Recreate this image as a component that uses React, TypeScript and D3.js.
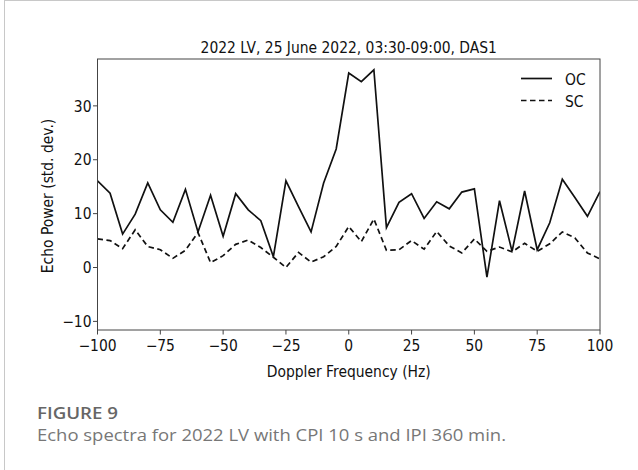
import React from "react";
import * as d3 from "d3";

const freqs: number[] = [
  -100, -95, -90, -85, -80, -75, -70, -65, -60, -55, -50, -45, -40, -35, -30, -25, -20, -15, -10, -5,
  0, 5, 10, 15, 20, 25, 30, 35, 40, 45, 50, 55, 60, 65, 70, 75, 80, 85, 90, 95, 100,
];
const ocValues: number[] = [
  16.1, 13.8, 6.2, 9.9, 15.7, 10.7, 8.4, 14.5, 6.6, 13.4, 5.8, 13.7, 10.7, 8.7, 2.0, 16.1, 11.3, 6.6, 15.7, 22.0,
  36.1, 34.5, 36.7, 7.4, 12.1, 13.7, 9.1, 12.2, 10.9, 14.0, 14.6, -1.8, 12.4, 3.0, 14.2, 3.3, 8.3, 16.4, 13.0, 9.5, 14.1,
];
const scValues: number[] = [
  5.3, 5.0, 3.5, 7.0, 3.9, 3.3, 1.7, 3.2, 6.5, 0.9, 2.2, 4.3, 5.1, 3.7, 1.9, 0.0, 2.8, 1.0, 2.0, 3.9,
  7.6, 4.8, 9.0, 3.2, 3.3, 5.0, 3.4, 6.7, 4.0, 2.7, 5.3, 3.0, 3.8, 2.9, 4.5, 3.0, 4.4, 6.6, 5.5, 2.7, 1.6,
];
const xTicks: number[] = [-100, -75, -50, -25, 0, 25, 50, 75, 100];
const yTicks: number[] = [-10, 0, 10, 20, 30];
const seriesNames: string[] = ["OC", "SC"];

const W = 638;
const H = 470;
const plot = { left: 97.5, right: 600, top: 59, bottom: 330 };
const FONT = "'DejaVu Sans', sans-serif";
const FS = 15.6;
const SX = 0.89;

function Txt(props: {
  x: number;
  y: number;
  anchor?: "start" | "middle" | "end";
  rotate?: number;
  children: React.ReactNode;
}) {
  const { x, y, anchor = "start", rotate = 0, children } = props;
  return (
    <g transform={`translate(${x},${y}) rotate(${rotate}) scale(${SX},1)`}>
      <text x={0} y={0} textAnchor={anchor} fontFamily={FONT} fontSize={FS} fill="#111">
        {children}
      </text>
    </g>
  );
}

export default function App() {
  const x = d3.scaleLinear().domain([-100, 100]).range([plot.left, plot.right]);
  const y = d3.scaleLinear().domain([-11.6, 38.7]).range([plot.bottom, plot.top]);
  const line = d3
    .line<number>()
    .x((_, i) => x(freqs[i]))
    .y((d) => y(d));
  const fmt = (v: number) => (v < 0 ? "\u2212" + Math.abs(v) : String(v));

  return (
    <svg
      width={W}
      height={H}
      style={{ position: "absolute", left: 0, top: 0, background: "#fff" }}
    >
      {/* outer frame */}
      <line x1={4} y1={0.5} x2={W} y2={0.5} stroke="#c8c8c8" strokeWidth={1} />
      <line x1={4.5} y1={0} x2={4.5} y2={H} stroke="#c8c8c8" strokeWidth={1} />

      <Txt x={(plot.left + plot.right) / 2} y={52.7} anchor="middle">
        2022 LV, 25 June 2022, 03:30-09:00, DAS1
      </Txt>

      <clipPath id="clip">
        <rect x={plot.left} y={plot.top} width={plot.right - plot.left} height={plot.bottom - plot.top} />
      </clipPath>
      <g clipPath="url(#clip)">
        <path d={line(ocValues) || ""} fill="none" stroke="#111" strokeWidth={1.7} />
        <path d={line(scValues) || ""} fill="none" stroke="#111" strokeWidth={1.7} strokeDasharray="5.5,3.5" />
      </g>

      <rect
        x={plot.left}
        y={plot.top}
        width={plot.right - plot.left}
        height={plot.bottom - plot.top}
        fill="none"
        stroke="#444"
        strokeWidth={1}
      />

      {xTicks.map((t) => (
        <g key={"x" + t}>
          <line x1={x(t)} x2={x(t)} y1={plot.bottom} y2={plot.bottom + 4.5} stroke="#444" />
          <Txt x={x(t)} y={350.7} anchor="middle">
            {fmt(t)}
          </Txt>
        </g>
      ))}
      {yTicks.map((t) => (
        <g key={"y" + t}>
          <line x1={plot.left - 4.5} x2={plot.left} y1={y(t)} y2={y(t)} stroke="#444" />
          <Txt x={plot.left - 6} y={y(t) + 5.7} anchor="end">
            {fmt(t)}
          </Txt>
        </g>
      ))}

      <Txt x={(plot.left + plot.right) / 2} y={377} anchor="middle">
        Doppler Frequency (Hz)
      </Txt>
      <Txt x={52.7} y={196} anchor="middle" rotate={-90}>
        Echo Power (std. dev.)
      </Txt>

      {/* legend */}
      {seriesNames.map((s, i) => (
        <g key={s}>
          <line
            x1={521}
            x2={552}
            y1={78.5 + i * 22}
            y2={78.5 + i * 22}
            stroke="#111"
            strokeWidth={1.7}
            strokeDasharray={i === 1 ? "5.5,3.5" : undefined}
          />
          <Txt x={565} y={84.5 + i * 22}>
            {s}
          </Txt>
        </g>
      ))}

      <text
        x={37}
        y={419}
        fontFamily="'Open Sans', sans-serif"
        fontSize={15.5}
        fontWeight={600}
        fill="#666"
        textLength={81}
        lengthAdjust="spacingAndGlyphs"
      >
        FIGURE 9
      </text>
      <text
        x={37}
        y={441}
        fontFamily="'Open Sans', sans-serif"
        fontSize={16}
        fill="#777"
        textLength={469}
        lengthAdjust="spacingAndGlyphs"
      >
        Echo spectra for 2022 LV with CPI 10 s and IPI 360 min.
      </text>
    </svg>
  );
}
